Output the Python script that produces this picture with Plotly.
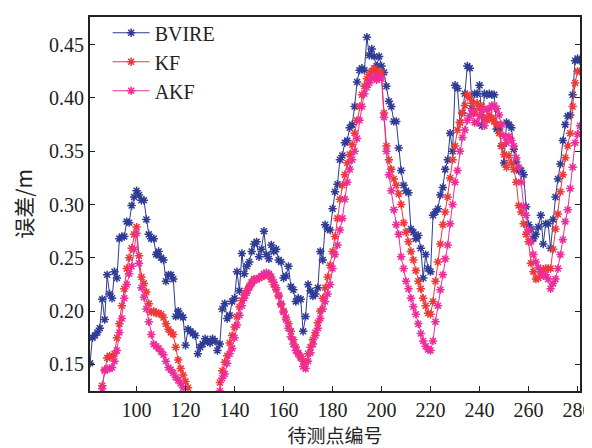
import plotly.graph_objects as go

x_start = 81
bvire = [0.151, 0.175, 0.177, 0.180, 0.184, 0.211, 0.192, 0.234, 0.216, 0.212,
         0.237, 0.231, 0.268, 0.270, 0.270, 0.284, 0.283, 0.299, 0.307, 0.313,
         0.309, 0.304, 0.304, 0.286, 0.272, 0.268, 0.268, 0.253, 0.256, 0.250,
         0.248, 0.228, 0.234, 0.234, 0.230, 0.195, 0.200, 0.196, 0.194, 0.168,
         0.183, 0.181, 0.179, 0.177, 0.160, 0.166, 0.169, 0.174, 0.172, 0.170,
         0.174, 0.172, 0.163, 0.169, 0.202, 0.207, 0.193, 0.196, 0.209, 0.212,
         0.237, 0.219, 0.254, 0.235, 0.242, 0.246, 0.256, 0.263, 0.265, 0.251,
         0.258, 0.275, 0.253, 0.249, 0.262, 0.256, 0.258, 0.248, 0.246, 0.231,
         0.233, 0.242, 0.223, 0.220, 0.209, 0.212, 0.211, 0.181, 0.195, 0.225,
         0.219, 0.214, 0.216, 0.222, 0.256, 0.248, 0.281, 0.277, 0.276, 0.296,
         0.312, 0.319, 0.342, 0.346, 0.358, 0.360, 0.372, 0.375, 0.392, 0.415,
         0.426, 0.428, 0.426, 0.457, 0.440, 0.446, 0.439, 0.430, 0.439, 0.430,
         0.424, 0.411, 0.397, 0.392, 0.378, 0.378, 0.353, 0.332, 0.318, 0.313,
         0.311, 0.277, 0.274, 0.268, 0.271, 0.259, 0.231, 0.253, 0.240, 0.237,
         0.290, 0.293, 0.296, 0.309, 0.316, 0.333, 0.342, 0.367, 0.350, 0.412,
         0.409, 0.377, 0.386, 0.404, 0.430, 0.428, 0.390, 0.404, 0.404, 0.412,
         0.374, 0.404, 0.403, 0.404, 0.403, 0.403, 0.371, 0.371, 0.355, 0.339,
         0.377, 0.375, 0.372, 0.352, 0.340, 0.332, 0.332, 0.328, 0.298, 0.281,
         0.277, 0.268, 0.272, 0.279, 0.290, 0.263, 0.282, 0.282, 0.259, 0.286,
         0.307, 0.324, 0.338, 0.360, 0.375, 0.383, 0.384, 0.403, 0.435, 0.437,
         0.435]

kf = [None, None, None, None, None, 0.130, 0.145, 0.156, 0.158, 0.157,
      0.160, 0.175, 0.188, 0.205, 0.221, 0.240, 0.250, 0.259, 0.272, 0.279,
      0.252, 0.232, 0.226, 0.218, 0.207, 0.199, 0.200, 0.198, 0.198, 0.197,
      0.194, 0.188, 0.183, 0.180, 0.178, 0.166, 0.154, 0.146, 0.140, 0.134,
      0.128, None, None, None, None, None, None, None, None, None,
      None, None, None, 0.133, 0.144, 0.152, 0.158, 0.170, 0.177, 0.185,
      0.195, 0.204, 0.210, 0.215, 0.219, 0.223, 0.227, 0.230, 0.230, 0.231,
      0.232, 0.233, 0.234, 0.234, 0.230, 0.225, 0.220, 0.214, 0.206, 0.200,
      0.194, 0.188, 0.181, 0.173, 0.166, 0.161, 0.157, 0.153, 0.152, 0.160,
      0.166, 0.173, 0.180, 0.189, 0.200, 0.212, 0.222, 0.232, 0.243, 0.256,
      0.270, 0.287, 0.305, 0.318, 0.328, 0.339, 0.347, 0.356, 0.367, 0.379,
      0.392, 0.403, 0.411, 0.418, 0.422, 0.425, 0.428, 0.423, 0.425, 0.423,
      0.386, 0.355, 0.342, 0.333, 0.324, 0.318, 0.310, 0.300, 0.283, 0.274,
      0.265, 0.256, 0.248, 0.238, 0.228, 0.221, 0.212, 0.205, 0.198, 0.197,
      0.209, 0.228, 0.246, 0.263, 0.281, 0.293, 0.307, 0.325, 0.342, 0.355,
      0.370, 0.377, 0.386, 0.393, 0.403, 0.400, 0.395, 0.386, 0.395, 0.390,
      0.392, 0.381, 0.379, 0.384, 0.381, 0.378, 0.375, 0.367, 0.355, 0.347,
      0.335, 0.346, 0.339, 0.333, 0.321, 0.299, 0.293, 0.282, 0.272, 0.265,
      0.245, 0.237, 0.230, 0.231, 0.237, 0.239, 0.240, 0.240, 0.240, 0.258,
      0.277, 0.291, 0.312, 0.328, 0.344, 0.355, 0.367, 0.392, 0.414, 0.425,
      0.425]

akf = [None, None, None, None, None, 0.127, 0.144, 0.146, 0.146, 0.147,
       0.153, 0.163, 0.180, 0.193, 0.212, 0.225, 0.235, 0.242, 0.258, 0.273,
       0.245, 0.222, 0.213, 0.202, 0.190, 0.178, 0.169, 0.167, 0.165, 0.162,
       0.159, 0.153, 0.147, 0.145, 0.142, 0.138, 0.135, 0.132, 0.128, None,
       None, None, None, None, None, None, None, None, None, None,
       None, None, None, 0.125, 0.137, 0.141, 0.151, 0.160, 0.165, 0.175,
       0.187, 0.196, 0.205, 0.212, 0.217, 0.222, 0.226, 0.229, 0.230, 0.231,
       0.233, 0.235, 0.236, 0.235, 0.232, 0.227, 0.222, 0.215, 0.207, 0.199,
       0.192, 0.184, 0.176, 0.169, 0.163, 0.160, 0.156, 0.148, 0.146, 0.153,
       0.161, 0.169, 0.177, 0.184, 0.193, 0.202, 0.209, 0.216, 0.225, 0.240,
       0.253, 0.262, 0.276, 0.287, 0.305, 0.321, 0.333, 0.342, 0.350, 0.362,
       0.379, 0.392, 0.404, 0.410, 0.414, 0.418, 0.420, 0.417, 0.420, 0.418,
       0.382, 0.350, 0.328, 0.313, 0.295, 0.281, 0.272, 0.251, 0.240, 0.228,
       0.221, 0.212, 0.204, 0.197, 0.188, 0.179, 0.172, 0.167, 0.164, 0.163,
       0.172, 0.190, 0.205, 0.220, 0.234, 0.249, 0.262, 0.282, 0.300, 0.321,
       0.332, 0.350, 0.363, 0.370, 0.379, 0.383, 0.388, 0.377, 0.377, 0.383,
       0.389, 0.374, 0.389, 0.390, 0.393, 0.393, 0.390, 0.384, 0.375, 0.364,
       0.358, 0.364, 0.360, 0.355, 0.344, 0.335, 0.321, 0.298, 0.290, 0.276,
       0.265, 0.253, 0.246, 0.241, 0.237, 0.233, 0.234, 0.230, 0.221, 0.226,
       0.230, 0.240, 0.253, 0.267, 0.284, 0.295, 0.315, 0.335, 0.358, 0.366,
       0.374]

x_vals = list(range(x_start, x_start + len(bvire)))
series_names = ["BVIRE", "KF", "AKF"]
series_colors = ["#2F3B95", "#EF3838", "#EE2C9A"]
x_ticks = [100, 120, 140, 160, 180, 200, 220, 240, 260, 280]
y_ticks = [0.15, 0.20, 0.25, 0.30, 0.35, 0.40, 0.45]
y_tick_text = ["0.15", "0.20", "0.25", "0.30", "0.35", "0.40", "0.45"]

fig = go.Figure()
for name, ys, col in zip(series_names, [bvire, kf, akf], series_colors):
    fig.add_trace(go.Scatter(
        x=x_vals, y=ys, name=name, mode="lines+markers",
        line=dict(color=col, width=1),
        marker=dict(symbol="asterisk-open", size=7, color=col,
                    line=dict(color=col, width=1.5)),
    ))

serif = "Liberation Serif"
cjk = "Noto Sans CJK SC"
fig.update_layout(
    width=584, height=448,
    margin=dict(l=82, r=12, t=5, b=65),
    paper_bgcolor="white", plot_bgcolor="white",
    showlegend=True,
    legend=dict(x=0.036, y=1.01, xanchor="left", yanchor="top",
                font=dict(family=serif, size=20, color="#222"),
                bgcolor="rgba(0,0,0,0)", itemwidth=37),
    font=dict(family=serif, size=20, color="#222"),
)
fig.update_xaxes(
    range=[81, 281], tickvals=x_ticks, ticks="inside", ticklen=5,
    tickcolor="#222", showline=True, linecolor="#222", linewidth=2,
    mirror=True, showgrid=False, zeroline=False, automargin=False,
    ticklabeloverflow="allow",
    tickfont=dict(family=serif, size=20, color="#222"),
    title=dict(text="待测点编号", font=dict(family=cjk, size=19, color="#222"), standoff=2),
)
fig.update_yaxes(
    range=[0.125, 0.476], tickvals=y_ticks, ticktext=y_tick_text,
    ticks="inside", ticklen=5, tickcolor="#222", showline=True,
    linecolor="#222", linewidth=2, mirror="ticks", showgrid=False,
    zeroline=False, automargin=False,
    tickfont=dict(family=serif, size=20, color="#222"),
    title=dict(text="误差/m", font=dict(family=cjk, size=21, color="#222"), standoff=16),
)
fig.write_html("out.html")
